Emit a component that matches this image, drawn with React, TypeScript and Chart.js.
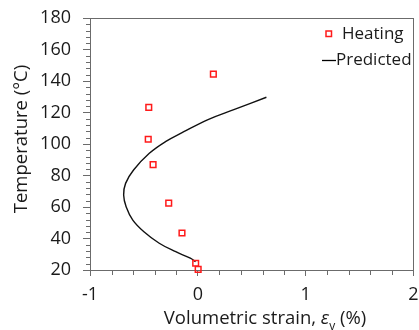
import { useEffect, useRef } from 'react';
import { Chart, registerables } from 'chart.js';

Chart.register(...registerables);

const heatingLabel = 'Heating';
const predictedLabel = 'Predicted';

const heatingX = [-0.455, -0.46, -0.415, -0.27, -0.147, -0.02, 0.003, 0.144];
const heatingY = [123.3, 103, 86.9, 62.5, 43.5, 24.3, 20.4, 144.4];

const predictedX = [-0.021, -0.07, -0.205, -0.358, -0.5, -0.603, -0.665, -0.688, -0.67, -0.596, -0.45, -0.3, -0.13, 0.1, 0.34, 0.636];
const predictedY = [25.3, 27.5, 31.6, 37.0, 44.3, 51.7, 60.2, 67.6, 75, 83.5, 94.1, 101.5, 107.8, 115.7, 122, 129.7];

const xMin = -1;
const xMax = 2;
const xStep = 1;
const xMinorStep = 0.2;
const yMin = 20;
const yMax = 180;
const yStep = 20;
const yMinorStep = 4;

const yTitle = 'Temperature (°C)';
const xTitleParts = ['Volumetric strain, ', 'ε', 'v', ' (%)'];

const FONT = '"Open Sans", sans-serif';
const AXIS = '#6b6b6b';
const TEXT = '#1a1a1a';
const RED = '#ff1a1a';

export default function App() {
  const ref = useRef<HTMLCanvasElement | null>(null);

  useEffect(() => {
    const canvas = ref.current;
    if (!canvas) return;

    const decor = {
      id: 'decor',
      afterDraw(chart: any) {
        const { ctx, chartArea } = chart;
        const { left, right, top, bottom } = chartArea;
        const xs = chart.scales.x;
        const ys = chart.scales.y;
        ctx.save();
        ctx.strokeStyle = AXIS;
        ctx.lineWidth = 1;
        ctx.beginPath();
        ctx.moveTo(left, Math.round(top) + 0.5);
        ctx.lineTo(right, Math.round(top) + 0.5);
        ctx.moveTo(Math.round(right) - 0.5, top);
        ctx.lineTo(Math.round(right) - 0.5, bottom);
        ctx.stroke();
        ctx.beginPath();
        const ny = Math.round((yMax - yMin) / yMinorStep);
        for (let i = 0; i <= ny; i++) {
          const v = yMin + i * yMinorStep;
          if (Math.abs(v / yStep - Math.round(v / yStep)) < 1e-6) continue;
          const py = Math.round(ys.getPixelForValue(v)) + 0.5;
          ctx.moveTo(left - 4, py);
          ctx.lineTo(left, py);
        }
        const nx = Math.round((xMax - xMin) / xMinorStep);
        for (let i = 0; i <= nx; i++) {
          if (i % Math.round(xStep / xMinorStep) === 0) continue;
          const v = xMin + i * xMinorStep;
          const px = Math.round(xs.getPixelForValue(v)) + 0.5;
          ctx.moveTo(px, bottom);
          ctx.lineTo(px, bottom + 5);
        }
        ctx.stroke();

        ctx.fillStyle = TEXT;
        ctx.font = `18.5px ${FONT}`;
        ctx.textAlign = 'center';
        ctx.textBaseline = 'middle';
        ctx.save();
        ctx.translate(22, 139);
        ctx.rotate(-Math.PI / 2);
        ctx.fillText(yTitle, 0, 0);
        ctx.restore();

        const fonts = [`18.5px ${FONT}`, `italic 18.5px ${FONT}`, `12px ${FONT}`, `18.5px ${FONT}`];
        const offs = [0, 0, 6, 0];
        let total = 0;
        const widths: number[] = [];
        xTitleParts.forEach((t, i) => {
          ctx.font = fonts[i];
          const w = ctx.measureText(t).width;
          widths.push(w);
          total += w;
        });
        let cx = 265 - total / 2;
        ctx.textAlign = 'left';
        ctx.textBaseline = 'alphabetic';
        xTitleParts.forEach((t, i) => {
          ctx.font = fonts[i];
          ctx.fillText(t, cx, 324 + offs[i]);
          cx += widths[i];
        });

        ctx.font = `17px ${FONT}`;
        ctx.textBaseline = 'middle';
        ctx.strokeStyle = RED;
        ctx.lineWidth = 1.5;
        ctx.strokeRect(326, 31, 5.5, 5.5);
        ctx.fillStyle = TEXT;
        ctx.fillText(heatingLabel, 342, 34);
        ctx.strokeStyle = '#000';
        ctx.lineWidth = 1.3;
        ctx.beginPath();
        ctx.moveTo(322, 60.5);
        ctx.lineTo(336, 60.5);
        ctx.stroke();
        ctx.fillText(predictedLabel, 336, 60);
        ctx.restore();
      },
    };

    const chart = new Chart(canvas, {
      type: 'scatter',
      data: {
        datasets: [
          {
            label: heatingLabel,
            data: heatingX.map((x, i) => ({ x, y: heatingY[i] })),
            pointStyle: 'rect',
            pointRadius: 4,
            pointBorderWidth: 1.5,
            pointBorderColor: RED,
            pointBackgroundColor: 'rgba(255,255,255,0)',
            showLine: false,
            clip: false as any,
          },
          {
            label: predictedLabel,
            data: predictedX.map((x, i) => ({ x, y: predictedY[i] })),
            showLine: true,
            borderColor: '#111',
            borderWidth: 1.4,
            pointRadius: 0,
            tension: 0.4,
          },
        ],
      },
      plugins: [decor],
      options: {
        animation: false,
        responsive: false,
        events: [],
        layout: { padding: { top: 18, right: 2, left: 0, bottom: 0 } },
        plugins: {
          legend: { display: false },
          tooltip: { enabled: false },
          title: { display: false },
        },
        scales: {
          x: {
            type: 'linear',
            min: xMin,
            max: xMax,
            ticks: {
              stepSize: xStep,
              color: TEXT,
              font: { family: FONT, size: 18 },
              padding: 8,
              maxRotation: 0,
            },
            grid: {
              display: true,
              drawOnChartArea: false,
              tickLength: 6,
              color: AXIS,
            },
            border: { display: true, color: AXIS, width: 1 },
            afterFit(scale: any) {
              scale.height = 60;
              scale.paddingLeft = 0;
              scale.paddingRight = 0;
            },
          },
          y: {
            type: 'linear',
            min: yMin,
            max: yMax,
            ticks: {
              stepSize: yStep,
              color: TEXT,
              font: { family: FONT, size: 18 },
              padding: 12,
            },
            grid: {
              display: true,
              drawOnChartArea: false,
              tickLength: 7,
              color: AXIS,
            },
            border: { display: true, color: AXIS, width: 1 },
            afterFit(scale: any) {
              scale.width = 90;
              scale.paddingTop = 0;
              scale.paddingBottom = 0;
            },
          },
        },
      },
    });

    return () => chart.destroy();
  }, []);

  return (
    <div style={{ position: 'absolute', left: 0, top: 0, width: 419, height: 330, background: '#fff' }}>
      <canvas ref={ref} width={419} height={330} style={{ display: 'block' }} />
    </div>
  );
}
